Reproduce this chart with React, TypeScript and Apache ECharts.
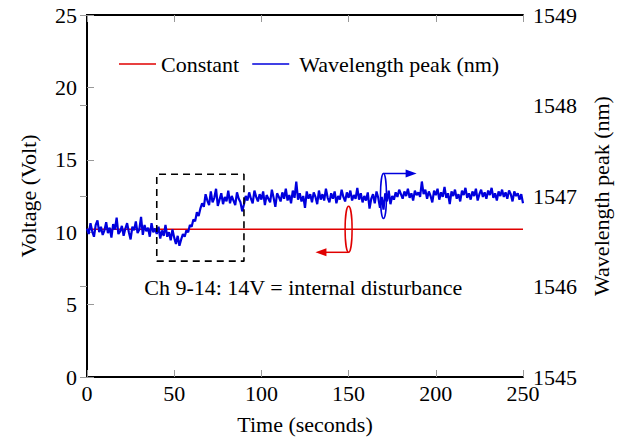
import React, { useEffect, useRef } from "react";
import * as echarts from "echarts";

const timeTicks = [0, 50, 100, 150, 200, 250];
const voltTicks = [0, 5, 10, 15, 20, 25];
const wavelengthTicks = [1545, 1546, 1547, 1548, 1549];

const constantTime = [0, 250];
const constantVolt = [10.2, 10.2];

// Wavelength peak (nm), one sample per second, t = 0..250
const wavelengthPeak = [
  1546.64, 1546.58, 1546.70, 1546.61, 1546.55, 1546.68, 1546.73, 1546.60, 1546.66, 1546.57,
  1546.62, 1546.71, 1546.59, 1546.65, 1546.54, 1546.69, 1546.63, 1546.76, 1546.58, 1546.61,
  1546.67, 1546.56, 1546.64, 1546.70, 1546.60, 1546.52, 1546.66, 1546.62, 1546.72, 1546.59,
  1546.63, 1546.77, 1546.57, 1546.68, 1546.61, 1546.65, 1546.55, 1546.70, 1546.60, 1546.64,
  1546.58, 1546.66, 1546.53, 1546.62, 1546.56, 1546.68, 1546.55, 1546.60, 1546.51, 1546.63,
  1546.54, 1546.47, 1546.56, 1546.45, 1546.52, 1546.58, 1546.55, 1546.62, 1546.60, 1546.68,
  1546.66, 1546.74, 1546.72, 1546.82, 1546.78, 1546.86, 1546.92, 1546.88, 1547.02, 1546.95,
  1546.90, 1547.05, 1546.93, 1546.98, 1547.08, 1546.89, 1546.96, 1547.03, 1546.91, 1546.99,
  1546.94, 1547.06, 1546.92, 1547.00, 1546.95, 1546.90, 1547.04, 1546.97, 1546.93, 1546.83,
  1546.91, 1547.00, 1546.95, 1547.04, 1546.97, 1546.92, 1547.06, 1546.99, 1546.94, 1547.02,
  1546.96, 1547.05, 1546.90, 1547.01, 1546.97, 1546.93, 1547.07, 1546.98, 1546.88, 1547.03,
  1546.99, 1546.94, 1547.04, 1546.97, 1547.08, 1546.95, 1547.01, 1546.92, 1547.06, 1546.98,
  1547.16, 1546.96, 1547.03, 1546.94, 1547.00, 1546.87, 1547.05, 1546.97, 1547.02, 1546.93,
  1547.04, 1546.99, 1546.91, 1547.06, 1546.96, 1547.02, 1546.95, 1547.08, 1546.98, 1546.93,
  1547.03, 1546.97, 1547.05, 1546.92, 1547.00, 1546.96, 1547.07, 1546.99, 1546.94, 1547.04,
  1546.98, 1547.06, 1546.95, 1547.01, 1546.97, 1547.09, 1546.96, 1547.03, 1546.93, 1547.00,
  1546.95, 1547.04, 1546.86, 1546.97, 1547.02, 1546.92, 1547.05, 1546.98, 1546.87, 1546.99,
  1546.85, 1547.03, 1546.94, 1547.06, 1546.91, 1547.00, 1546.96, 1547.04, 1546.99, 1547.07,
  1547.02, 1546.97, 1547.05, 1547.00, 1547.08, 1546.98, 1547.03, 1546.95, 1547.06, 1547.01,
  1547.04, 1546.99, 1547.16, 1547.02, 1547.07, 1546.97, 1547.05, 1547.00, 1546.93, 1547.06,
  1547.01, 1547.08, 1546.96, 1547.04, 1546.99, 1547.10, 1546.98, 1547.03, 1546.91, 1547.05,
  1547.00, 1547.07, 1546.97, 1547.02, 1546.94, 1547.06, 1547.01, 1547.09, 1546.98, 1547.03,
  1546.96, 1547.05, 1547.00, 1547.08, 1546.95, 1547.02, 1547.07, 1546.99, 1547.04, 1546.97,
  1547.06, 1547.01, 1547.09, 1546.98, 1547.03, 1546.95, 1547.05, 1547.00, 1547.07, 1546.99,
  1547.04, 1546.97, 1547.06, 1547.02, 1546.94, 1547.05, 1547.00, 1547.03, 1546.96, 1547.02,
  1546.92,
];

// dashed zoom box (time s, voltage V)
const boxTime = [40, 90, 90, 40, 40];
const boxVolt = [8, 8, 14, 14, 8];

// annotation anchors
const redMarker = { time: 150, volt: 10.2, arrowTo: 131 };
const blueMarker = { time: 170, wl: 1547.0, arrowTo: 189 };
const noteAnchor = { time: 124, volt: 6.2 };
const noteText = "Ch 9-14: 14V = internal disturbance";

const FONT = "'Liberation Serif', 'Times New Roman', 'DejaVu Serif', serif";
const FS = 22;
const RED = "#e00000";
const BLUE = "#0000dd";

export default function App() {
  const ref = useRef<HTMLDivElement>(null);
  useEffect(() => {
    document.body.style.margin = "0";
    if (!ref.current) return;
    const chart = echarts.init(ref.current, null, { renderer: "svg" });
    const tick = { show: true, inside: true, length: 7, lineStyle: { color: "#999", width: 1 } };
    const axisLine = { show: true, lineStyle: { color: "#000", width: 2 } };
    const label = { color: "#000", fontFamily: FONT, fontSize: FS };
    const plain = (v: number) => String(v);
    const option: any = {
      animation: false,
      grid: { left: 87, right: 97, top: 15, bottom: 62 },
      legend: {
        data: ["Constant", "Wavelength peak (nm)"],
        left: 114,
        top: 48,
        icon: "rect",
        itemWidth: 37,
        itemHeight: 1.5,
        itemGap: 13,
        formatter: (name: string) => (name === "Constant" ? name : " " + name),
        textStyle: { color: "#000", fontFamily: FONT, fontSize: FS },
      },
      xAxis: [
        {
          type: "value",
          position: "bottom",
          min: timeTicks[0],
          max: timeTicks[timeTicks.length - 1],
          interval: 50,
          axisLine,
          axisTick: tick,
          splitLine: { show: false },
          axisLabel: { ...label, margin: 5, formatter: plain },
          name: "Time (seconds)",
          nameLocation: "middle",
          nameGap: 36,
          nameTextStyle: { ...label },
        },
        {
          type: "value",
          position: "top",
          min: timeTicks[0],
          max: timeTicks[timeTicks.length - 1],
          interval: 50,
          axisLine,
          axisTick: tick,
          splitLine: { show: false },
          axisLabel: { show: false },
        },
      ],
      yAxis: [
        {
          type: "value",
          position: "left",
          min: voltTicks[0],
          max: voltTicks[voltTicks.length - 1],
          interval: 5,
          axisLine,
          axisTick: tick,
          splitLine: { show: false },
          axisLabel: { ...label, margin: 10, formatter: plain },
          name: "Voltage (Volt)",
          nameLocation: "middle",
          nameRotate: 90,
          nameGap: 48,
          nameTextStyle: { ...label },
        },
        {
          type: "value",
          position: "right",
          min: wavelengthTicks[0],
          max: wavelengthTicks[wavelengthTicks.length - 1],
          interval: 1,
          axisLine,
          axisTick: tick,
          splitLine: { show: false },
          axisLabel: { ...label, margin: 10, formatter: plain },
          name: "Wavelength peak (nm)",
          nameLocation: "middle",
          nameRotate: 90,
          nameGap: 67,
          nameTextStyle: { ...label },
        },
      ],
      series: [
        {
          name: "Constant",
          type: "line",
          xAxisIndex: 0,
          yAxisIndex: 0,
          showSymbol: false,
          symbol: "none",
          itemStyle: { color: RED },
          lineStyle: { color: RED, width: 1.5 },
          data: constantTime.map((t, i) => [t, constantVolt[i]]),
          z: 2,
        },
        {
          name: "Wavelength peak (nm)",
          type: "line",
          xAxisIndex: 0,
          yAxisIndex: 1,
          showSymbol: false,
          symbol: "none",
          itemStyle: { color: BLUE },
          lineStyle: { color: BLUE, width: 2.2 },
          data: wavelengthPeak.map((v, i) => [i, v]),
          z: 3,
        },
        {
          name: "box",
          type: "line",
          xAxisIndex: 0,
          yAxisIndex: 0,
          showSymbol: false,
          symbol: "none",
          lineStyle: { color: "#000", width: 1.6, type: [7, 5] },
          data: boxTime.map((t, i) => [t, boxVolt[i]]),
          z: 4,
        },
      ],
    };
    chart.setOption(option);

    const px = (x: number, y: number, yi: number) =>
      chart.convertToPixel({ xAxisIndex: 0, yAxisIndex: yi }, [x, y]) as number[];

    const rc = px(redMarker.time, redMarker.volt, 0);
    const rEnd = px(redMarker.arrowTo, redMarker.volt, 0)[0];
    const rRy = 23;
    const rY = rc[1] + rRy;
    const bc = px(blueMarker.time, blueMarker.wl, 1);
    const bEnd = px(blueMarker.arrowTo, blueMarker.wl, 1)[0];
    const bRy = 22.5;
    const bY = bc[1] - bRy;
    const nt = px(noteAnchor.time, noteAnchor.volt, 0);

    chart.setOption({
      graphic: [
        {
          type: "ellipse",
          shape: { cx: rc[0], cy: rc[1], rx: 3.5, ry: rRy },
          style: { fill: "none", stroke: RED, lineWidth: 1.5 },
          z: 10,
        },
        {
          type: "line",
          shape: { x1: rc[0], y1: rY, x2: rEnd + 8, y2: rY },
          style: { stroke: RED, lineWidth: 1.5 },
          z: 10,
        },
        {
          type: "polygon",
          shape: { points: [[rEnd, rY], [rEnd + 11, rY - 4], [rEnd + 11, rY + 4]] },
          style: { fill: RED },
          z: 10,
        },
        {
          type: "ellipse",
          shape: { cx: bc[0], cy: bc[1], rx: 3, ry: bRy },
          style: { fill: "none", stroke: BLUE, lineWidth: 1.5 },
          z: 10,
        },
        {
          type: "line",
          shape: { x1: bc[0], y1: bY, x2: bEnd - 8, y2: bY },
          style: { stroke: BLUE, lineWidth: 1.5 },
          z: 10,
        },
        {
          type: "polygon",
          shape: { points: [[bEnd, bY], [bEnd - 11, bY - 4], [bEnd - 11, bY + 4]] },
          style: { fill: BLUE },
          z: 10,
        },
        {
          type: "text",
          x: nt[0],
          y: nt[1],
          style: {
            text: noteText,
            fontFamily: FONT,
            fontSize: FS,
            fill: "#000",
            align: "center",
            verticalAlign: "middle",
          },
          z: 10,
        },
      ],
    });

    return () => chart.dispose();
  }, []);
  return <div ref={ref} style={{ width: 620, height: 440 }} />;
}
